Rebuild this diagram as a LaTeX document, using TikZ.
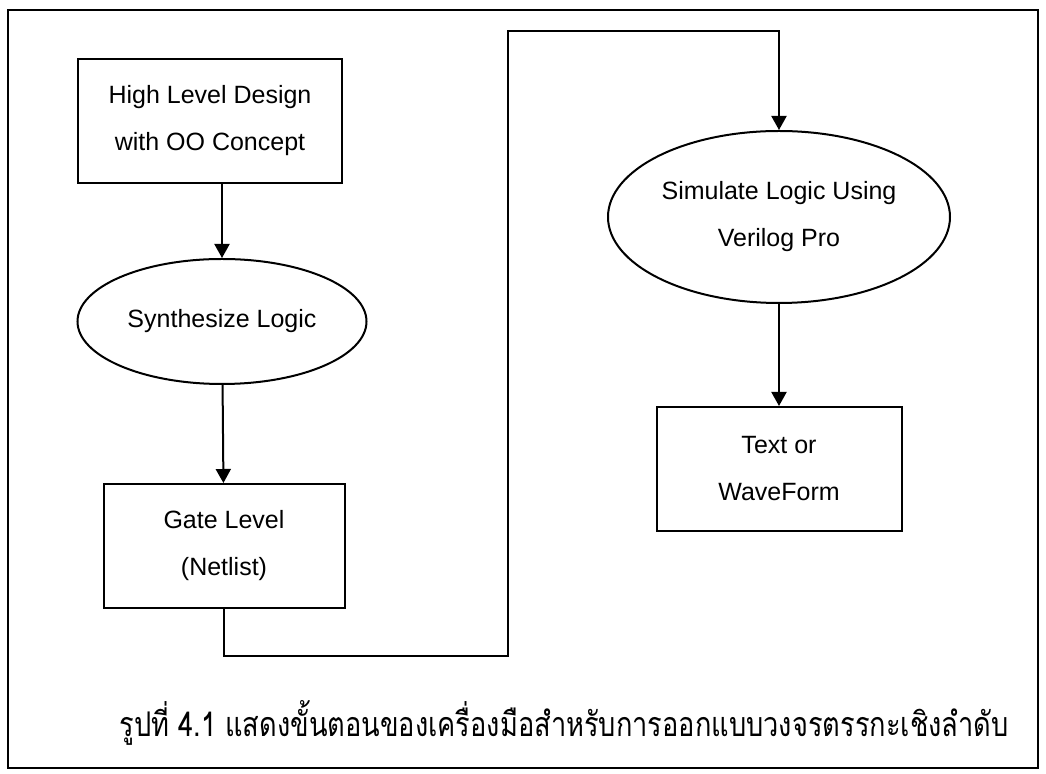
\documentclass[tikz,border=0pt]{standalone}
\usepackage{fontspec}
\setmainfont{Liberation Sans}
\newfontfamily\thaifont[Script=Thai, FakeStretch=0.8]{Loma}
\usetikzlibrary{shapes.geometric, arrows.meta, positioning, calc}

\begin{document}
\begin{tikzpicture}[
    node distance=1cm,
    block/.style={rectangle, draw, line width=1pt, minimum width=#1, minimum height=62pt, inner sep=0pt, align=center, font=\fontsize{12.5}{23.5}\selectfont},
    stage/.style 2 args={ellipse, draw, line width=1pt, minimum width=#1, minimum height=#2, inner sep=0pt, align=center, font=\fontsize{12.5}{23.5}\selectfont},
    flow/.style={-{Triangle[length=7pt, width=7.5pt]}, line width=1pt},
]
    \useasboundingbox (0,0) rectangle (523pt,-387pt);

    % Frame
    \draw[line width=1pt] (4pt,-5pt) rectangle (519pt,-384pt);

    % Left column
    \node[block=132pt] (design) at (105pt,-60.5pt) {High Level Design\\with OO Concept};
    \node[stage={144.5pt}{62.5pt}, below=37pt of design, xshift=6pt] (synth) {Synthesize Logic};
    \node[block=120.5pt, below=49pt of synth, xshift=1pt] (gate) {Gate Level\\(Netlist)};

    % Right column
    \node[stage={171pt}{86pt}, below=36pt of design.north, xshift=284.5pt] (sim) {Simulate Logic Using\\Verilog Pro};
    \node[block=122.5pt, below=51pt of sim] (wave) {Text or\\WaveForm};

    % Turning points
    \coordinate (jog) at ($(gate.south)+(142pt,-23.5pt)$);
    \coordinate (top) at ($(sim.north)+(0,49.5pt)$);

    % Arrows
    \draw[flow] (design.south -| synth.north) -- (synth.north);
    \draw[flow] (synth) -- (gate);
    \draw[flow] (gate.south) |- (jog) |- (top) -- (sim.north);
    \draw[flow] (sim) -- (wave);

    % Caption
    \node[font=\thaifont\fontsize{17}{20}\selectfont, anchor=base] (caption) at (282pt,-368.5pt) {รูปที่ 4.1 แสดงขั้นตอนของเครื่องมือสำหรับการออกแบบวงจรตรรกะเชิงลำดับ};

\end{tikzpicture}
\end{document}
